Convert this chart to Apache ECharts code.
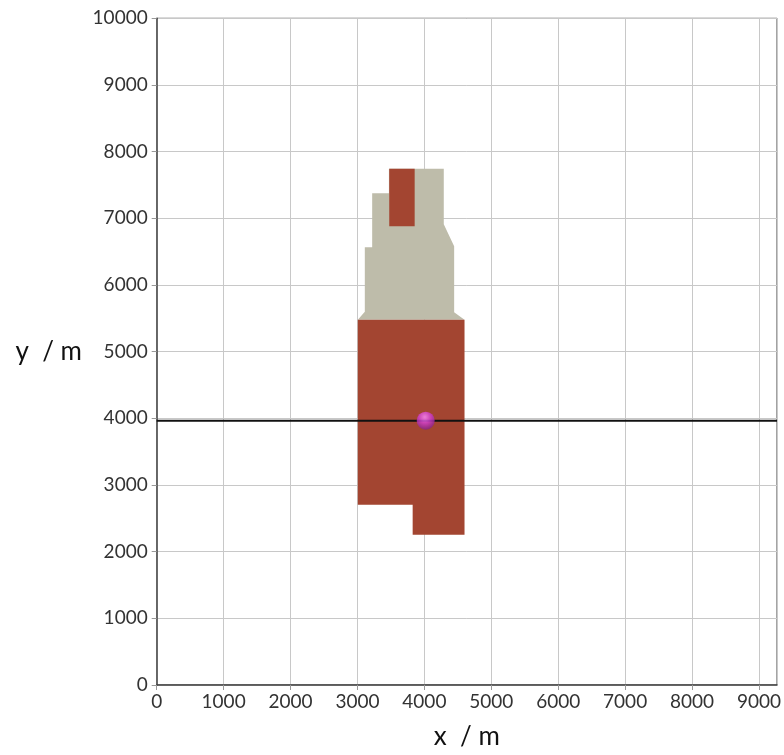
<!DOCTYPE html>
<html><head><meta charset="utf-8">
<script src="https://cdn.jsdelivr.net/npm/echarts@6/dist/echarts.min.js"></script>
<style>html,body{margin:0;padding:0;background:#fff}#c{width:784px;height:755px}</style>
</head><body><div id="c"></div>
<script>
// Data (metres)
const xTicks = [0,1000,2000,3000,4000,5000,6000,7000,8000,9000];
const yTicks = [0,1000,2000,3000,4000,5000,6000,7000,8000,9000,10000];
const xMax = 9270, yMax = 10000;
const grayZone = [[3470,7745],[4290,7745],[4290,6910],[4445,6580],[4445,5590],[4600,5480],[3005,5480],[3110,5600],[3110,6565],[3220,6565],[3220,7375],[3470,7375]];
const redTop = [[3475,7745],[3855,7745],[3855,6880],[3475,6880]];
const redMain = [[3005,5480],[4600,5480],[4600,2255],[3825,2255],[3825,2705],[3005,2705]];
const profileLineY = 3965;
const sourcePoint = [4020,3965];

const polys = [
  {pts: grayZone, color:'#bebcaa'},
  {pts: redMain, color:'#a34531'},
  {pts: redTop, color:'#a34531'}
];

const chart = echarts.init(document.getElementById('c'));
const font = 'Lato, "DejaVu Sans", sans-serif';
chart.setOption({
  animation:false,
  grid:{left:156.7, right:6.7, top:18.3, bottom:67.3, show:true, borderColor:'#444', borderWidth:1},
  xAxis:{type:'value', min:0, max:xMax, interval:1000,
    name:'x  / m', nameLocation:'middle', nameGap:52,
    nameTextStyle:{fontFamily:font, fontSize:26, color:'#111', verticalAlign:'middle'},
    axisLine:{show:true, lineStyle:{color:'#444', width:1.5}},
    axisTick:{show:true, length:5, lineStyle:{color:'#999'}},
    axisLabel:{fontFamily:font, fontSize:19, color:'#333', margin:7, showMaxLabel:false,
      formatter:v=> xTicks.includes(v)? String(v):''},
    splitLine:{show:true, lineStyle:{color:'#c8c8c8', width:1}}},
  yAxis:{type:'value', min:0, max:yMax, interval:1000,
    name:'y  / m', nameLocation:'middle', nameRotate:0, nameGap:108,
    nameTextStyle:{fontFamily:font, fontSize:26, color:'#111', align:'center', verticalAlign:'middle'},
    axisLine:{show:true, lineStyle:{color:'#444', width:1.5}},
    axisTick:{show:true, length:5, lineStyle:{color:'#999'}},
    axisLabel:{fontFamily:font, fontSize:19, color:'#333', margin:9,
      formatter:v=> yTicks.includes(v)? String(v):''},
    splitLine:{show:true, lineStyle:{color:'#c8c8c8', width:1}}},
  series:[
    {type:'custom', coordinateSystem:'cartesian2d', data:polys.map((p,i)=>[i]),
     renderItem:(params, api)=>{
       const p = polys[params.dataIndex];
       return {type:'polygon', shape:{points:p.pts.map(q=>api.coord(q))}, style:{fill:p.color}};
     }, silent:true, z:2},
    {type:'line', data:[[0,profileLineY],[xMax,profileLineY]], symbol:'none',
     lineStyle:{color:'#111', width:2}, z:3, silent:true},
    {type:'scatter', data:[sourcePoint], symbolSize:18, z:4,
     itemStyle:{color:{type:'radial', x:0.45, y:0.3, r:0.75, colorStops:[
       {offset:0,color:'#ff8cff'},{offset:0.45,color:'#d23ed2'},{offset:1,color:'#7a1f7a'}]}}}
  ]
});
</script></body></html>
